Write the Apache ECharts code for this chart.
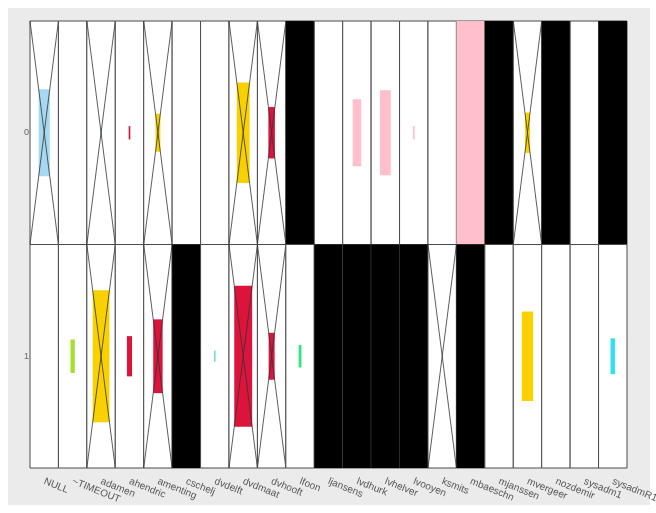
<!DOCTYPE html>
<html>
<head>
<meta charset="utf-8">
<script src="https://cdn.jsdelivr.net/npm/echarts@6/dist/echarts.min.js"></script>
<style>html,body{margin:0;padding:0;background:#fff}#c{width:656px;height:513px}</style>
</head>
<body>
<div id="c"></div>
<script>
// ---- data ----
const categories = ['NULL','~TIMEOUT','adamen','ahendric','amenting','cschelj','dvdelft','dvdmaat','dvhooft','lfoon','ljansens','lvdhurk','lvhelver','lvooyen','ksmits','mbaeschn','mjanssen','mvergeer','nozdemir','sysadm1','sysadmR1'];
const rows = ['0','1'];

const row0Size  = [0.39,0,0.04,0.06,0.17,0,0,0.45,0.23,1,0,0.30,0.38,0.06,0,1,1,0.18,1,0,1];
const row0Group = ['lightblue','none','lightblue','crimson','gold','none','none','gold','crimson','black','none','pink','pink','pink','none','pink','black','gold','black','none','black'];
const row0Cross = [1,0,1,0,1,0,0,1,1,0,0,0,0,0,0,0,0,1,0,0,0];

const row1Size  = [0,0.15,0.59,0.18,0.33,1,0.05,0.63,0.21,0.10,1,1,1,1,0,1,0,0.40,0,0,0.16];
const row1Group = ['none','yellowgreen','gold','crimson','crimson','black','aquagreen','crimson','crimson','springgreen','black','black','black','black','none','black','none','gold','none','none','cyan'];
const row1Cross = [0,0,1,0,1,0,0,1,1,0,0,0,0,0,1,0,0,0,0,0,0];

const palette = {
  none:'#ffffff', lightblue:'#a6d8f2', crimson:'#dc143c', gold:'#f9d100', pink:'#ffbfcb',
  black:'#000000', yellowgreen:'#a2e02c', aquagreen:'#5fe0a8', springgreen:'#33e384', cyan:'#33e0ef'
};

const data = [];
[[row0Size,row0Group,row0Cross],[row1Size,row1Group,row1Cross]].forEach((r,ri)=>{
  categories.forEach((c,ci)=>{
    data.push([ci, ri, r[0][ci], r[1][ci], r[2][ci]]);
  });
});

const chart = echarts.init(document.getElementById('c'), null, {renderer:'canvas'});
chart.setOption({
  backgroundColor:'#ffffff',
  animation:false,
  graphic:[{type:'rect', z:-10, shape:{x:8,y:8,width:642,height:497}, style:{fill:'#ebebeb'}}],
  grid:{left:30, top:21, right:29, bottom:45, containLabel:false, outerBoundsMode:'none'},
  xAxis:{
    type:'category', data:categories,
    axisLine:{show:false}, axisTick:{show:false}, splitLine:{show:false},
    axisLabel:{rotate:-22, interval:0, fontSize:10, color:'#555', margin:13, fontFamily:'Liberation Sans, Arial, sans-serif'}
  },
  yAxis:{
    type:'category', data:rows, inverse:true,
    axisLine:{show:false}, axisTick:{show:false}, splitLine:{show:false},
    axisLabel:{fontSize:9, color:'#666', margin:1, fontFamily:'Liberation Sans, Arial, sans-serif'}
  },
  series:[{
    type:'custom',
    data:data,
    renderItem:function(params, api){
      const c = api.coord([api.value(0), api.value(1)]);
      const sz = api.size([1,1]);
      const w = sz[0], h = sz[1];
      const x0 = c[0]-w/2, y0 = c[1]-h/2;
      const s = api.value(2);
      const grp = data[params.dataIndex][3];
      const cross = data[params.dataIndex][4];
      const children = [
        {type:'rect', shape:{x:x0,y:y0,width:w,height:h}, style:{fill:'#ffffff', stroke:'#4a4a4a', lineWidth:1}}
      ];
      if (s > 0) {
        const bw = w*s, bh = h*s;
        children.push({type:'rect', shape:{x:c[0]-bw/2, y:c[1]-bh/2, width:bw, height:bh}, style:{fill:palette[grp]}});
      }
      if (cross) {
        children.push({type:'line', shape:{x1:x0,y1:y0,x2:x0+w,y2:y0+h}, style:{stroke:'#333', lineWidth:0.8}});
        children.push({type:'line', shape:{x1:x0+w,y1:y0,x2:x0,y2:y0+h}, style:{stroke:'#333', lineWidth:0.8}});
      }
      return {type:'group', children:children};
    }
  }]
});
</script>
</body>
</html>
